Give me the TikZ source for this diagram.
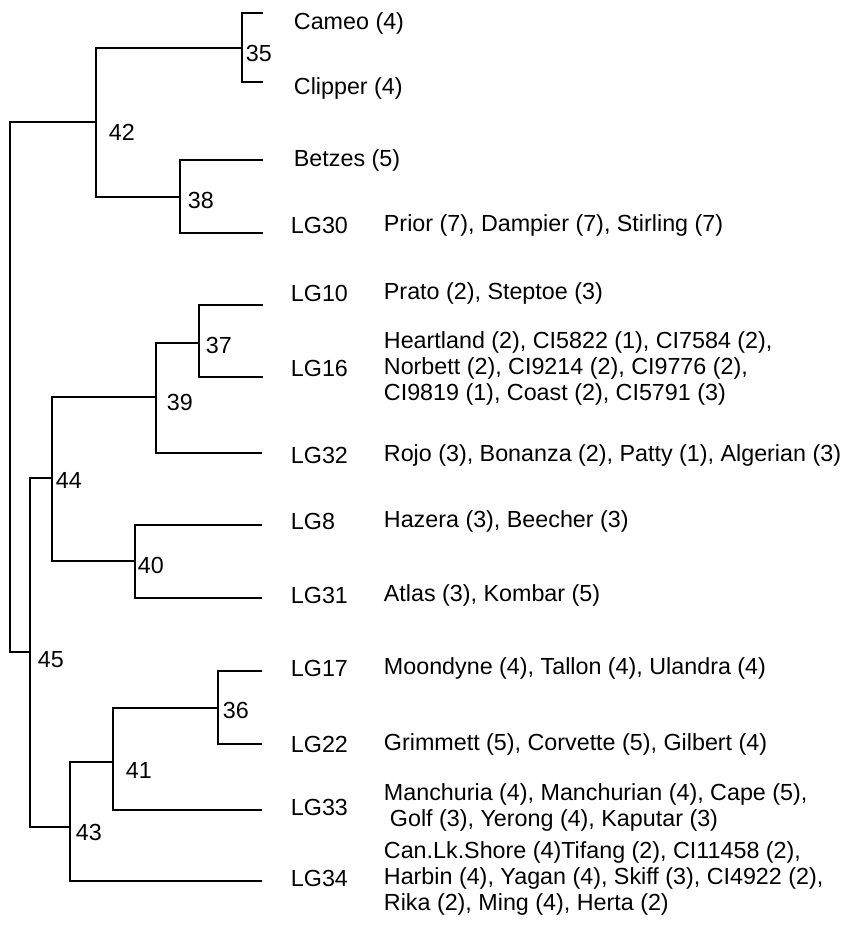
\documentclass[tikz,border=0pt]{standalone}
\usepackage{fontspec}
\setmainfont{Liberation Sans}
\begin{document}
\begin{tikzpicture}
  [x=1bp,y=-1bp,line width=1.9bp,
   every node/.style={inner sep=0pt,anchor=west,font=\fontsize{23.3bp}{26bp}\selectfont},
   list/.style={align=left}]
  \useasboundingbox (0,0) rectangle (846,936);

  % cluster joins
  \coordinate (root) at (10,387);
  \coordinate (c42) at (96,122);
  \coordinate (c35) at (242,48);
  \coordinate (c38) at (180,197);
  \coordinate (c45) at (30,652);
  \coordinate (c44) at (52,478);
  \coordinate (c39) at (156,397);
  \coordinate (c37) at (199,343);
  \coordinate (c40) at (135,561);
  \coordinate (c43) at (70,827);
  \coordinate (c41) at (113,762);
  \coordinate (c36) at (218,708);

  % leaf tips
  \coordinate (t1) at (263,13);
  \coordinate (t2) at (263,82);
  \coordinate (t3) at (263,160);
  \coordinate (t4) at (263,233);
  \coordinate (t5) at (263,305);
  \coordinate (t6) at (263,377);
  \coordinate (t7) at (262,453);
  \coordinate (t8) at (262,525);
  \coordinate (t9) at (262,598);
  \coordinate (t10) at (262,671);
  \coordinate (t11) at (262,744);
  \coordinate (t12) at (262,810);
  \coordinate (t13) at (262,881);

  \foreach \from/\to in {root/c42, root/c45, c42/c35, c42/c38, c35/t1, c35/t2,
      c38/t3, c38/t4, c45/c44, c45/c43, c44/c39, c44/c40, c39/c37, c39/t7,
      c37/t5, c37/t6, c40/t8, c40/t9, c43/c41, c43/t13, c41/c36, c41/t12,
      c36/t10, c36/t11}
    \draw (\from) |- (\to);

  % cluster numbers
  \node (l35) at (245,53) {35};
  \node (l42) at (108,132) {42};
  \node (l38) at (187,200) {38};
  \node (l37) at (205,345) {37};
  \node (l39) at (166,402) {39};
  \node (l44) at (55,480) {44};
  \node (l40) at (137,565) {40};
  \node (l45) at (37,660) {45};
  \node (l36) at (222,710) {36};
  \node (l41) at (125,770) {41};
  \node (l43) at (75,832) {43};

  % leaves
  \node (cameo) at (293,23) {Cameo (4)};
  \node (clipper) at (293,88) {Clipper (4)};
  \node (betzes) at (293,160) {Betzes (5)};
  \node (lg30) at (290,225) {LG30};
  \node (lg10) at (290,293) {LG10};
  \node (lg16) at (290,368) {LG16};
  \node (lg32) at (290,455) {LG32};
  \node (lg8) at (290,521) {LG8};
  \node (lg31) at (290,595) {LG31};
  \node (lg17) at (290,668) {LG17};
  \node (lg22) at (290,744) {LG22};
  \node (lg33) at (290,807) {LG33};
  \node (lg34) at (290,878) {LG34};

  % cultivars
  \node (lg30d) at (383,225) {Prior (7), Dampier (7), Stirling (7)};
  \node (lg10d) at (383,293) {Prato (2), Steptoe (3)};
  \node[list] (lg16d) at (383,368) {Heartland (2), CI5822 (1), CI7584 (2),\\
    Norbett (2), CI9214 (2), CI9776 (2),\\ CI9819 (1), Coast (2), CI5791 (3)};
  \node (lg32d) at (383,455) {Rojo (3), Bonanza (2), Patty (1), Algerian (3)};
  \node (lg8d) at (383,521) {Hazera (3), Beecher (3)};
  \node (lg31d) at (383,595) {Atlas (3), Kombar (5)};
  \node (lg17d) at (383,668) {Moondyne (4), Tallon (4), Ulandra (4)};
  \node (lg22d) at (383,744) {Grimmett (5), Corvette (5), Gilbert (4)};
  \node[list] (lg33d) at (383,807) {Manchuria (4), Manchurian (4), Cape (5),\\
    \hspace*{6bp}Golf (3), Yerong (4), Kaputar (3)};
  \node[list] (lg34d) at (383,878) {Can.Lk.Shore (4)Tifang (2), CI11458 (2),\\
    Harbin (4), Yagan (4), Skiff (3), CI4922 (2),\\ Rika (2), Ming (4), Herta (2)};
\end{tikzpicture}
\end{document}
